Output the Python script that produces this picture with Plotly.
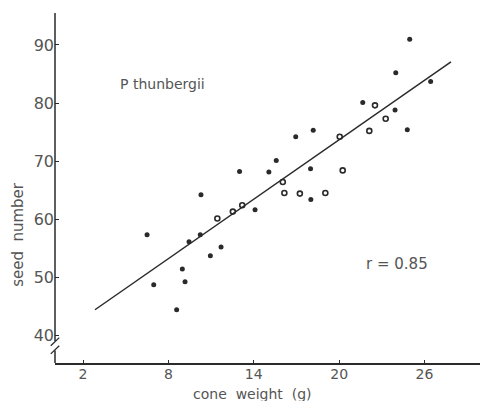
import plotly.graph_objects as go

# Data
filled_x = [6.50, 6.97, 8.58, 8.98, 9.17, 9.45, 10.24, 10.29, 10.95, 11.70, 13.0, 14.09,
            15.06, 15.58, 16.95, 17.99, 18.01, 18.18, 21.66, 23.93, 23.98, 24.96, 24.79, 26.43]
filled_y = [57.3, 48.7, 44.4, 51.4, 49.2, 56.1, 57.3, 64.2, 53.7, 55.2, 68.2, 61.6,
            68.1, 70.1, 74.2, 68.7, 63.4, 75.3, 80.1, 78.8, 85.2, 91.0, 75.4, 83.7]
open_x = [11.44, 12.53, 13.19, 16.04, 16.15, 17.24, 19.03, 20.04, 20.25, 22.52, 22.12, 23.27]
open_y = [60.1, 61.3, 62.4, 66.4, 64.5, 64.4, 64.5, 74.2, 68.4, 79.6, 75.2, 77.3]
fit_x = [2.84, 27.86]
fit_y = [44.4, 87.1]
x_ticks = [2, 8, 14, 20, 26]
y_ticks = [40, 50, 60, 70, 80, 90]

TXT = "#555555"
INK = "#2a2a2a"
FONT = "DejaVu Sans"

fig = go.Figure()
fig.add_trace(go.Scatter(x=fit_x, y=fit_y, mode="lines",
                         line=dict(color=INK, width=1.5), showlegend=False))
fig.add_trace(go.Scatter(x=filled_x, y=filled_y, mode="markers",
                         marker=dict(color=INK, size=5), showlegend=False))
fig.add_trace(go.Scatter(x=open_x, y=open_y, mode="markers",
                         marker=dict(symbol="circle-open", color=INK, size=5,
                                     line=dict(width=1.6)), showlegend=False))

# y-axis line with a break
shapes = [
    dict(type="line", xref="paper", yref="y", x0=0, x1=0, y0=39.0, y1=95.5,
         line=dict(color=INK, width=1.5)),
    dict(type="line", xref="paper", yref="y", x0=0, x1=0, y0=35.23, y1=37.4,
         line=dict(color=INK, width=1.5)),
    dict(type="line", xref="paper", yref="y", x0=-0.01, x1=0.01, y0=38.2, y1=39.6,
         line=dict(color=INK, width=1.3)),
    dict(type="line", xref="paper", yref="y", x0=-0.01, x1=0.01, y0=36.8, y1=38.2,
         line=dict(color=INK, width=1.3)),
]

annotations = [
    dict(x=7.6, y=83.3, xref="x", yref="y", text="P thunbergii", showarrow=False,
         font=dict(family=FONT, size=14, color=TXT)),
    dict(x=24.1, y=52.3, xref="x", yref="y", text="r = 0.85", showarrow=False,
         font=dict(family=FONT, size=15, color=TXT)),
    dict(x=13.9, y=-0.088, xref="x", yref="paper", xanchor="center", yanchor="middle",
         text="cone  weight  (g)", showarrow=False,
         font=dict(family=FONT, size=14, color=TXT)),
    dict(x=-0.087, y=57.3, xref="paper", yref="y", xanchor="center", yanchor="middle",
         text="seed  number", textangle=-90,
         showarrow=False, font=dict(family=FONT, size=15, color=TXT)),
]

fig.update_layout(
    width=480, height=401,
    margin=dict(l=55, r=0, t=13, b=38),
    paper_bgcolor="white", plot_bgcolor="white",
    shapes=shapes, annotations=annotations,
    xaxis=dict(range=[0.03, 29.9], tickvals=x_ticks, ticks="inside", ticklen=3,
               tickcolor=INK, showgrid=False, zeroline=False, showline=True,
               linecolor=INK, linewidth=1.5, ticklabelstandoff=-3,
               tickfont=dict(family=FONT, size=14, color=TXT)),
    yaxis=dict(range=[35.23, 95.5], tickvals=y_ticks, ticks="inside", ticklen=4,
               tickcolor=INK, showgrid=False, zeroline=False, showline=False,
               tickfont=dict(family=FONT, size=16, color=TXT)),
)

fig.write_html("out.html")
